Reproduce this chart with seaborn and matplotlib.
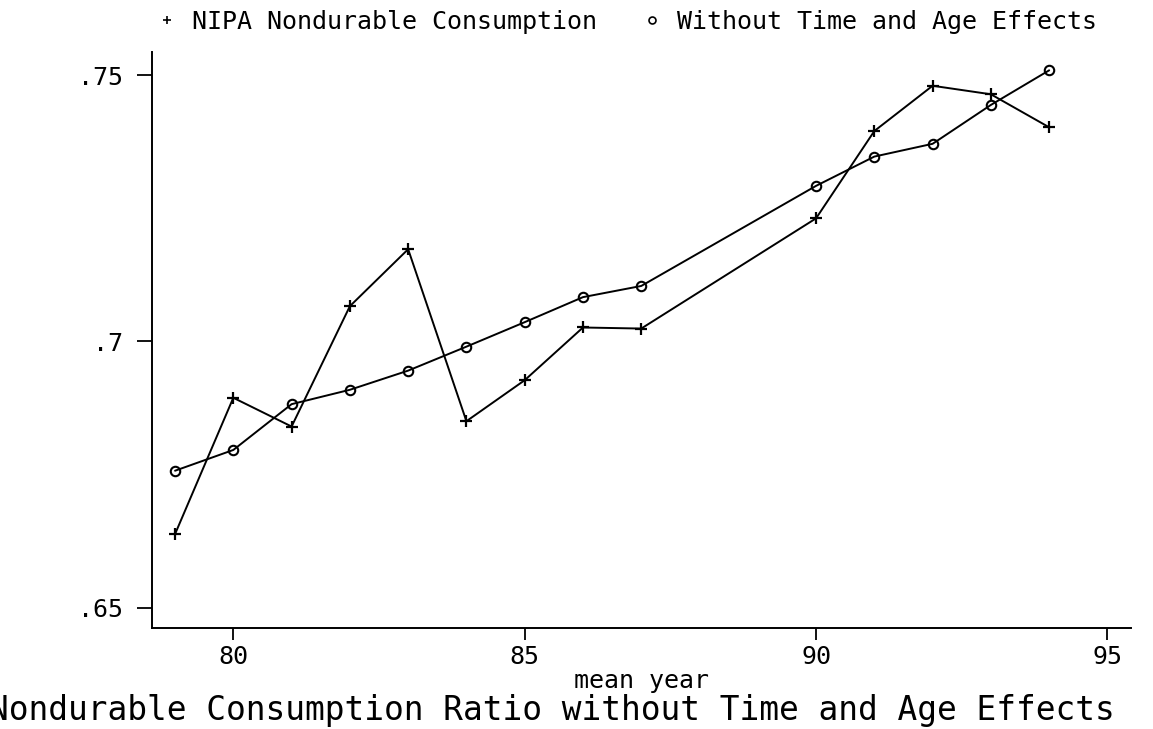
import matplotlib
matplotlib.use("Agg")
import matplotlib.pyplot as plt
from matplotlib.lines import Line2D
import pandas as pd
import seaborn as sns

# values (mean year, ratio)
years = [79, 80, 81, 82, 83, 84, 85, 86, 87, 90, 91, 92, 93, 94]
nipa = [0.6638, 0.6894, 0.6840, 0.7066, 0.7173, 0.6850, 0.6927,
        0.7026, 0.7024, 0.7231, 0.7395, 0.7480, 0.7464, 0.7402]
no_effects = [0.6757, 0.6796, 0.6882, 0.6909, 0.6945, 0.6990, 0.7036,
              0.7083, 0.7104, 0.7292, 0.7347, 0.7371, 0.7444, 0.7509]

labels = ['NIPA Nondurable Consumption', 'Without Time and Age Effects']
xticks = [80, 85, 90, 95]
yticks = [0.65, 0.70, 0.75]
ytick_labels = ['.65', '.7', '.75']

sns.set_style("ticks", {"axes.edgecolor": "black", "xtick.color": "black",
                        "ytick.color": "black", "text.color": "black",
                        "axes.labelcolor": "black"})
plt.rcParams['font.family'] = ['DejaVu Sans Mono', 'DejaVu Sans']

df = pd.DataFrame({'year': years, 'nipa': nipa, 'noeff': no_effects})

fig = plt.figure(figsize=(11.53, 7.29), dpi=100)
ax = fig.add_axes([0.1316, 0.1381, 0.8491, 0.7910])

sns.lineplot(data=df, x='year', y='nipa', ax=ax, color='black', lw=1.4,
             marker='+', markersize=8.5, markeredgewidth=1.6,
             markeredgecolor='black')
sns.lineplot(data=df, x='year', y='noeff', ax=ax, color='black', lw=1.4,
             marker='o', markersize=6.8, markerfacecolor='none',
             markeredgewidth=1.5, markeredgecolor='black')

ax.set_xlim(78.6, 95.4)
ax.set_ylim(0.6461, 0.7544)
ax.set_xticks(xticks)
ax.set_xticklabels([str(t) for t in xticks])
ax.set_yticks(yticks)
ax.set_yticklabels(ytick_labels)
ax.tick_params(axis='x', length=8.6, width=1.3, pad=3.5, labelsize=18)
ax.tick_params(axis='y', length=10.8, width=1.3, pad=10, labelsize=18)
ax.set_ylabel('')
ax.set_xlabel('mean year', fontsize=18, labelpad=0)
sns.despine(ax=ax)
for s in ['left', 'bottom']:
    ax.spines[s].set_linewidth(1.4)

handles = [Line2D([], [], ls='none', marker='+', color='black', ms=6, mew=1.2),
           Line2D([], [], ls='none', marker='o', color='black', ms=5,
                  mfc='none', mew=1.2)]
fig.legend(handles, labels, loc='center', bbox_to_anchor=(0.544, 0.97),
           ncol=2, frameon=False, fontsize=18, handlelength=0.8,
           handletextpad=0.6, columnspacing=1.8)

# the reference title runs off the left edge; keep the same placement
fig.text(0.479, 0.0123,
         'Nondurable Consumption Ratio without Time and Age Effects',
         ha='center', va='baseline', fontsize=23.6)

fig.savefig('out.png', dpi=100)
